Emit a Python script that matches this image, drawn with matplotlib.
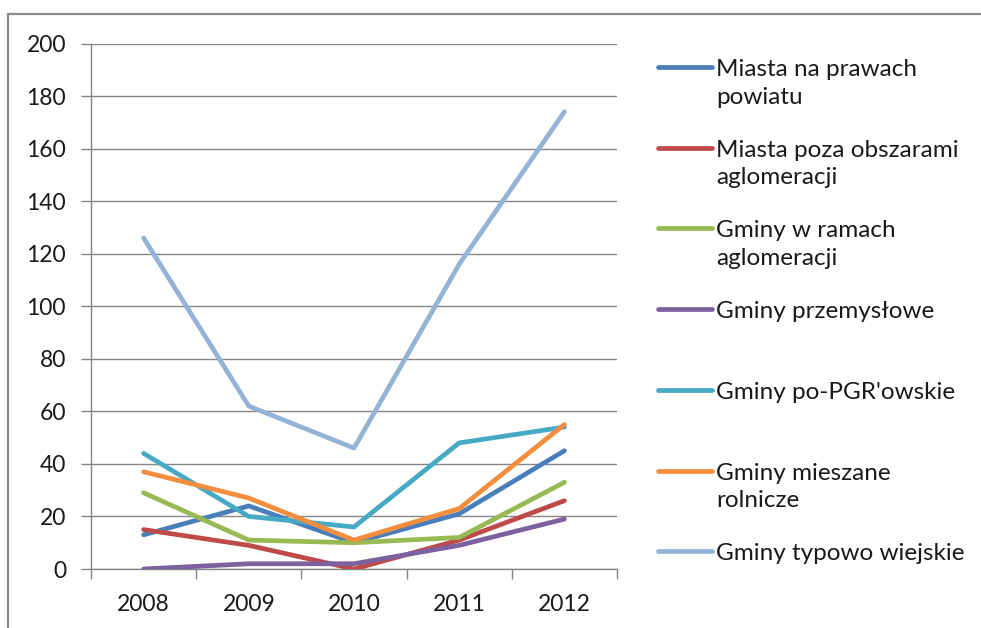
import numpy as np
import matplotlib.pyplot as plt
from matplotlib.lines import Line2D
from matplotlib.patches import Rectangle

plt.rcParams['font.family'] = ['Lato', 'DejaVu Sans']

# dane
lata = ['2008', '2009', '2010', '2011', '2012']
nazwy = ['Miasta na prawach\npowiatu',
         'Miasta poza obszarami\naglomeracji',
         'Gminy w ramach\naglomeracji',
         'Gminy przemysłowe',
         "Gminy po-PGR'owskie",
         'Gminy mieszane\nrolnicze',
         'Gminy typowo wiejskie']
miasta_powiat = [13, 24, 10, 21, 45]
miasta_poza = [15, 9, 0, 11, 26]
gminy_aglo = [29, 11, 10, 12, 33]
gminy_przem = [0, 2, 2, 9, 19]
gminy_pgr = [44, 20, 16, 48, 54]
gminy_miesz = [37, 27, 11, 23, 55]
gminy_wiejskie = [126, 62, 46, 116, 174]

serie = [miasta_powiat, miasta_poza, gminy_aglo, gminy_przem,
         gminy_pgr, gminy_miesz, gminy_wiejskie]
kolory = ['#4A7EBB', '#BE4B48', '#98B954', '#7D60A0',
          '#46AAC5', '#F38E3F', '#95B3D7']

W, H = 981, 628
fig = plt.figure(figsize=(W / 100, H / 100), dpi=100)
ax = fig.add_axes([91 / W, 1 - 569 / H, (617 - 91) / W, (569 - 43.5) / H])

szary = '#868686'
x = np.arange(len(lata))
for dane, kol in zip(serie, kolory):
    ax.plot(x, dane, color=kol, lw=3.4, solid_capstyle='round',
            solid_joinstyle='round', zorder=3)

ax.set_xlim(-0.5, len(lata) - 0.5)
ax.set_ylim(0, 200)
ax.set_yticks(np.arange(0, 201, 20))
ax.set_xticks(x)
ax.set_xticklabels(lata)
ax.set_xticks(np.arange(-0.5, len(lata)), minor=True)
ax.grid(axis='y', color=szary, lw=1)
ax.set_axisbelow(True)
for s in ['top', 'right']:
    ax.spines[s].set_visible(False)
for s in ['left', 'bottom']:
    ax.spines[s].set_color(szary)
    ax.spines[s].set_linewidth(1)
ax.tick_params(axis='y', length=7, color=szary, width=1, pad=11,
               labelsize=16.5, labelcolor='#1a1a1a')
ax.tick_params(axis='x', which='major', length=0, pad=18,
               labelsize=16.5, labelcolor='#1a1a1a')
ax.tick_params(axis='x', which='minor', length=7, color=szary, width=1)

# legenda rysowana recznie
y0, krok = 67, 80.7
for i, (nazwa, kol) in enumerate(zip(nazwy, kolory)):
    yp = y0 + i * krok
    fig.add_artist(Line2D([658 / W, 712 / W], [1 - yp / H, 1 - yp / H],
                          color=kol, lw=3.4, solid_capstyle='round'))
    for j, linia in enumerate(nazwa.split('\n')):
        fig.text(716 / W, 1 - (yp + 9 + j * 27.5) / H, linia,
                 fontsize=17.5, color='#1a1a1a', va='baseline', ha='left')

# ramka wykresu
fig.add_artist(Rectangle((8 / W, -0.1), 1.2, 1 - 14 / H + 0.1,
                         transform=fig.transFigure, fill=False,
                         edgecolor='#8a8a8a', lw=1.6))

plt.savefig('out.png', dpi=100)
